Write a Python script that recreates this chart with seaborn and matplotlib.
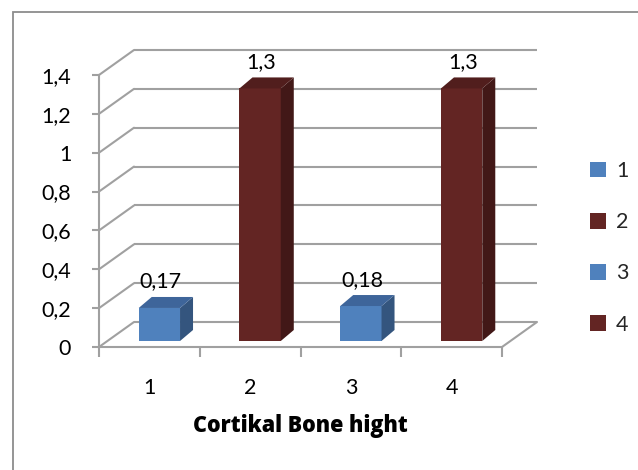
import matplotlib
matplotlib.use("Agg")
import matplotlib.pyplot as plt
import seaborn as sns
import pandas as pd
import numpy as np
from matplotlib.patches import Polygon, Rectangle, Patch
from matplotlib.transforms import ScaledTranslation, IdentityTransform
from matplotlib import font_manager

# ---- data ----
categories = ["1", "2", "3", "4"]
values = [0.17, 1.3, 0.18, 1.3]
value_labels = ["0,17", "1,3", "0,18", "1,3"]
yticks = [0, 0.2, 0.4, 0.6, 0.8, 1.0, 1.2, 1.4]
ytick_labels = ["0", "0,2", "0,4", "0,6", "0,8", "1", "1,2", "1,4"]
xlabel = "Cortikal Bone hight"

front_colors = ["#4F81BD", "#632523", "#4F81BD", "#632523"]
side_colors = ["#34557E", "#421817", "#34557E", "#421817"]
top_colors = ["#3E659A", "#511E1D", "#3E659A", "#511E1D"]

sns.set_theme(style="white")
plt.rcParams["font.family"] = ["Lato", "DejaVu Sans"]

FS = 15.5

W, H = 638, 470
DPI = 100
fig = plt.figure(figsize=(W / DPI, H / DPI), dpi=DPI)

ax = fig.add_axes([99 / W, (H - 347) / H, (502 - 99) / W, (347 - 75) / H])
ax.set_facecolor("none")

df = pd.DataFrame({"cat": categories, "val": values})
sns.barplot(data=df, x="cat", y="val", hue="cat", palette=front_colors,
            width=0.41, saturation=1, legend=False, ax=ax, zorder=3,
            linewidth=0)
ax.set_xlim(-0.5, 3.5)
ax.set_ylim(0, 1.4)

grid_c = "#A0A0A0"
lw = 1.5
BX, BY = 35, 25
SX, SY = 10, 6
DX, DY = 13, 11

back = ax.transData + ScaledTranslation(BX / DPI, BY / DPI, fig.dpi_scale_trans)
for v in yticks:
    ax.plot([-0.5, 3.5], [v, v], color=grid_c, lw=lw, transform=back,
            clip_on=False, zorder=1, solid_capstyle="butt")
    p0 = ax.transData.transform((-0.5, v))
    ax.plot([p0[0], p0[0] + BX], [p0[1], p0[1] + BY], color=grid_c, lw=lw,
            transform=IdentityTransform(), clip_on=False, zorder=1)
p0 = ax.transData.transform((3.5, 0))
ax.plot([p0[0], p0[0] + BX], [p0[1], p0[1] + BY], color=grid_c, lw=lw,
        transform=IdentityTransform(), clip_on=False, zorder=1)

shift = ax.transData + ScaledTranslation(SX / DPI, SY / DPI, fig.dpi_scale_trans)
bars = list(ax.patches)
for i, b in enumerate(bars):
    b.set_transform(shift)
    b.set_clip_on(False)
    x0, x1 = b.get_x(), b.get_x() + b.get_width()
    h = b.get_height()
    bl = ax.transData.transform((x0, 0)) + [SX, SY]
    br = ax.transData.transform((x1, 0)) + [SX, SY]
    tl = ax.transData.transform((x0, h)) + [SX, SY]
    tr = ax.transData.transform((x1, h)) + [SX, SY]
    d = np.array([DX, DY])
    side = Polygon([br, br + d, tr + d, tr], closed=True, facecolor=side_colors[i],
                   edgecolor="none", transform=IdentityTransform(), zorder=3, clip_on=False)
    top = Polygon([tl, tr, tr + d, tl + d], closed=True, facecolor=top_colors[i],
                  edgecolor="none", transform=IdentityTransform(), zorder=3, clip_on=False)
    ax.add_artist(side)
    ax.add_artist(top)
    cx = (x0 + x1) / 2
    ax.annotate(value_labels[i], xy=(cx, h), xycoords=shift,
                xytext=(1, 19), textcoords="offset points",
                ha="center", va="center", fontsize=FS, color="#000000",
                annotation_clip=False)

for s in ["top", "right"]:
    ax.spines[s].set_visible(False)
for s in ["left", "bottom"]:
    ax.spines[s].set_color(grid_c)
    ax.spines[s].set_linewidth(lw)
    ax.spines[s].set_zorder(4)

ax.set_yticks(yticks)
ax.set_yticklabels(ytick_labels, fontsize=FS, color="#000000")
ax.tick_params(axis="y", which="major", left=True, length=5, width=lw,
               color=grid_c, pad=15)

ax.set_xticks([-0.5, 0.5, 1.5, 2.5, 3.5])
ax.set_xticklabels([])
ax.tick_params(axis="x", which="major", bottom=True, length=7, width=lw,
               color=grid_c, direction="out")
ax.set_xticks([0, 1, 2, 3], minor=True)
ax.set_xticklabels(categories, minor=True, fontsize=FS, color="#000000")
ax.tick_params(axis="x", which="minor", bottom=True, length=0, pad=22)

ax.set_xlabel(xlabel, fontsize=FS, fontweight="heavy", color="#000000", labelpad=12,
              family=["Open Sans", "DejaVu Sans"])
ax.set_ylabel("")

handles = [Patch(facecolor=c, edgecolor="none") for c in front_colors]
fig.legend(handles, categories, loc="upper left",
           bbox_to_anchor=(590 / W, 1 - 161 / H), frameon=False, fontsize=FS,
           handlelength=0.75, handleheight=0.75, handletextpad=0.45,
           labelspacing=1.45, borderpad=0, borderaxespad=0)

fig.patches.append(Rectangle((13 / W, -0.1), 1.2, (H - 12) / H + 0.1,
                             transform=fig.transFigure, fill=False,
                             edgecolor="#8C8C8C", lw=1.3, zorder=0))

fig.savefig("out.png", dpi=DPI)
